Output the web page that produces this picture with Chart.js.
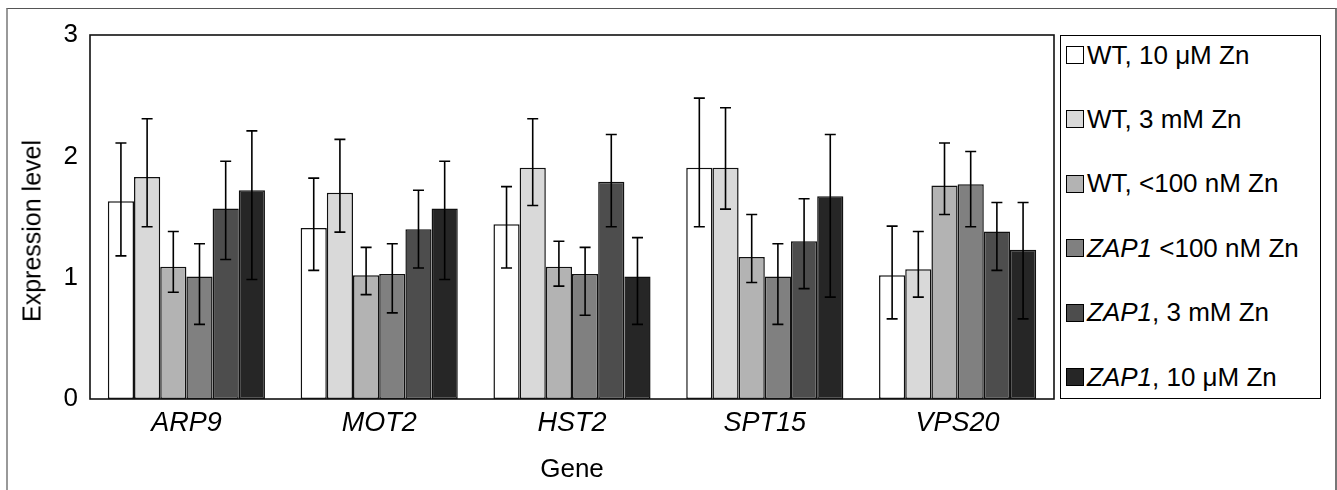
<!DOCTYPE html>
<html>
<head>
<meta charset="utf-8">
<script src="https://cdn.jsdelivr.net/npm/chart.js@4.4.1/dist/chart.umd.min.js"></script>
<style>
  html, body { margin: 0; padding: 0; background: #fff; }
  body { width: 1337px; height: 490px; position: relative; overflow: hidden;
         font-family: "Liberation Sans", Arial, Helvetica, sans-serif; }
  #frame { position: absolute; left: 6px; top: 8px; width: 1327px; height: 520px;
           border-top: 1.5px solid #555; border-left: 2px solid #999; border-right: 2px solid #777; }
  #wrap { position: absolute; left: 0; top: 0; width: 1337px; height: 490px; }
  #ytitle { position: absolute; left: 32px; top: 231px; transform: translate(-50%, -50%) rotate(-90deg);
            font-size: 25px; white-space: nowrap; color: #000; }
  #legend { position: absolute; left: 1060px; top: 35px; width: 259px; height: 362px;
            border: 1.5px solid #000; background: #fff; }
  .item { position: absolute; left: 5px; height: 30px; display: flex; align-items: center;
          font-size: 26px; color: #000; white-space: nowrap; }
  .sw { width: 18px; height: 18px; border: 1.5px solid #000; margin-right: 3px; box-sizing: border-box; }
</style>
</head>
<body>
<div id="frame"></div>
<div id="wrap"><canvas id="c" width="1337" height="490"></canvas></div>
<div id="ytitle">Expression level</div>
<div id="legend"></div>
<script>
const genes = ["ARP9", "MOT2", "HST2", "SPT15", "VPS20"];
const seriesNames = ["WT, 10 μM Zn", "WT, 3 mM Zn", "WT, <100 nM Zn", "ZAP1 <100 nM Zn", "ZAP1, 3 mM Zn", "ZAP1, 10 μM Zn"];
const seriesColors = ["#ffffff", "#d9d9d9", "#b3b3b3", "#808080", "#4d4d4d", "#262626"];
const yTicks = [0, 1, 2, 3];

const wt10 =      [1.63, 1.41, 1.44, 1.905, 1.02];
const wt10Hi =    [2.11, 1.82, 1.75, 2.48, 1.425];
const wt10Lo =    [1.18, 1.06, 1.08, 1.42, 0.66];
const wt3m =      [1.83, 1.70, 1.905, 1.905, 1.07];
const wt3mHi =    [2.31, 2.14, 2.31, 2.40, 1.38];
const wt3mLo =    [1.42, 1.375, 1.595, 1.565, 0.84];
const wtLow =     [1.09, 1.02, 1.09, 1.17, 1.76];
const wtLowHi =   [1.38, 1.25, 1.30, 1.52, 2.11];
const wtLowLo =   [0.88, 0.86, 0.93, 0.96, 1.52];
const zapLow =    [1.01, 1.03, 1.03, 1.01, 1.77];
const zapLowHi =  [1.28, 1.28, 1.25, 1.28, 2.04];
const zapLowLo =  [0.615, 0.71, 0.69, 0.615, 1.42];
const zap3m =     [1.57, 1.40, 1.79, 1.30, 1.38];
const zap3mHi =   [1.96, 1.72, 2.18, 1.65, 1.62];
const zap3mLo =   [1.15, 1.08, 1.42, 0.91, 1.06];
const zap10 =     [1.72, 1.57, 1.01, 1.67, 1.23];
const zap10Hi =   [2.21, 1.96, 1.33, 2.18, 1.62];
const zap10Lo =   [0.985, 0.985, 0.615, 0.84, 0.66];

const seriesValues = [wt10, wt3m, wtLow, zapLow, zap3m, zap10];
const seriesHi = [wt10Hi, wt3mHi, wtLowHi, zapLowHi, zap3mHi, zap10Hi];
const seriesLo = [wt10Lo, wt3mLo, wtLowLo, zapLowLo, zap3mLo, zap10Lo];

const FONT = "'Liberation Sans', Arial, Helvetica, sans-serif";

// HTML legend (mixed italic text)
const leg = document.getElementById('legend');
seriesNames.forEach((name, i) => {
  const d = document.createElement('div');
  d.className = 'item';
  d.style.top = (4 + i * 64.4) + 'px';
  const sw = document.createElement('div');
  sw.className = 'sw';
  sw.style.background = seriesColors[i];
  const t = document.createElement('span');
  t.innerHTML = name.replace('&', '&amp;').replace('<', '&lt;').replace(/^ZAP1/, '<i>ZAP1</i>');
  d.appendChild(sw); d.appendChild(t);
  leg.appendChild(d);
});

const errorBars = {
  id: 'errorBars',
  afterDatasetsDraw(chart) {
    const ctx = chart.ctx;
    const ys = chart.scales.y;
    ctx.save();
    ctx.strokeStyle = '#000';
    ctx.lineWidth = 1.6;
    chart.data.datasets.forEach((ds, di) => {
      const meta = chart.getDatasetMeta(di);
      meta.data.forEach((bar, j) => {
        const x = bar.x;
        const yh = ys.getPixelForValue(seriesHi[di][j]);
        const yl = ys.getPixelForValue(seriesLo[di][j]);
        ctx.beginPath();
        ctx.moveTo(x, yh); ctx.lineTo(x, yl);
        ctx.moveTo(x - 5.5, yh); ctx.lineTo(x + 5.5, yh);
        ctx.moveTo(x - 5.5, yl); ctx.lineTo(x + 5.5, yl);
        ctx.stroke();
      });
    });
    ctx.restore();
  }
};

const areaBox = {
  id: 'areaBox',
  afterDraw(chart) {
    const a = chart.chartArea;
    const ctx = chart.ctx;
    ctx.save();
    ctx.strokeStyle = '#111';
    ctx.lineWidth = 1.6;
    ctx.strokeRect(a.left, a.top, a.right - a.left, a.bottom - a.top);
    ctx.restore();
  }
};

new Chart(document.getElementById('c'), {
  type: 'bar',
  data: {
    labels: genes,
    datasets: seriesNames.map((n, i) => ({
      label: n,
      data: seriesValues[i],
      backgroundColor: seriesColors[i],
      borderColor: '#111',
      borderWidth: 1.5,
      borderSkipped: false,
      categoryPercentage: 0.815,
      barPercentage: 1.0
    }))
  },
  options: {
    responsive: false,
    animation: false,
    devicePixelRatio: 1,
    layout: { padding: { left: 0, right: 283, top: 35, bottom: 0 } },
    plugins: { legend: { display: false }, tooltip: { enabled: false } },
    scales: {
      x: {
        grid: { display: false, drawTicks: false },
        border: { display: false },
        ticks: { color: '#000', padding: 8, font: { family: FONT, size: 27, style: 'italic' } },
        title: { display: true, text: 'Gene', color: '#000', padding: { top: 0, bottom: 5 },
                 font: { family: FONT, size: 26 } },
        afterFit(s) { s.height = 91; }
      },
      y: {
        min: 0, max: 3,
        afterBuildTicks(s) { s.ticks = yTicks.map(v => ({ value: v })); },
        grid: { display: false, drawTicks: false },
        border: { display: false },
        ticks: { color: '#000', padding: 12, font: { family: FONT, size: 26 } },
        afterFit(s) { s.width = 90; }
      }
    }
  },
  plugins: [errorBars, areaBox]
});
</script>
</body>
</html>
